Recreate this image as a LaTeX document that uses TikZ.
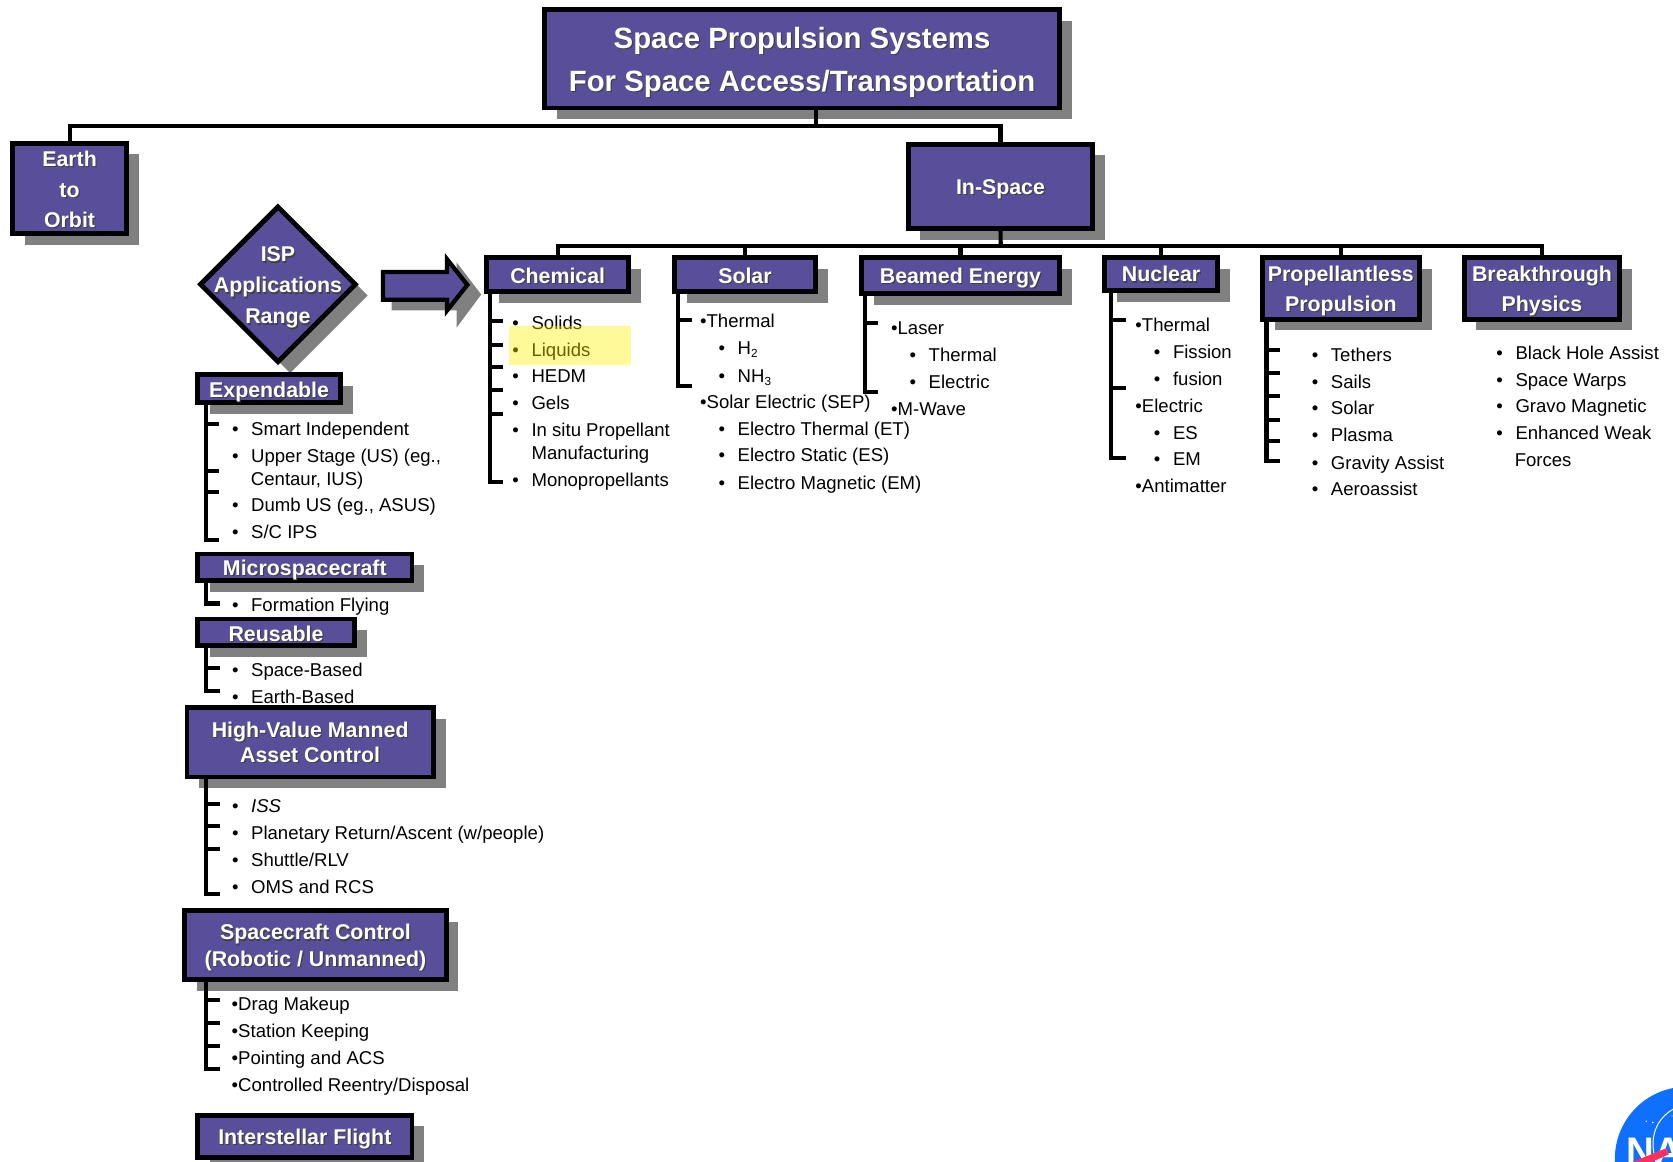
\documentclass[tikz,border=0pt]{standalone}
\usepackage{fontspec}
\setmainfont{Liberation Sans}
\usetikzlibrary{shadows,shapes.geometric,calc}
\definecolor{hdrfill}{HTML}{584E99}
\definecolor{shdw}{HTML}{808080}
\definecolor{nasablue}{HTML}{0F6FFF}
\definecolor{nasared}{HTML}{FF3060}
\tikzset{
  shad/.style={general shadow={shadow xshift=11.5pt,shadow yshift=-10.5pt,fill=shdw}},
  hdr/.style={draw=black,line width=4.5pt,fill=hdrfill,inner sep=0pt,shad},
  hdrtxt/.style={inner sep=0pt,align=center,text=white,font=\bfseries\fontsize{20}{#1}\selectfont},
  hdrtxt/.default=28.5,
  titletxt/.style={inner sep=0pt,align=center,text=white,font=\bfseries\fontsize{27.5}{40}\selectfont},
  txt/.style={anchor=mid west,inner sep=0pt,yshift=-3.8pt,text=black,font=\fontsize{17.4}{20}\selectfont},
  wire/.style={line width=3.8pt,draw=black},
}
\newcommand\shd[1]{\leavevmode\rlap{\kern1.1pt\raisebox{-1.1pt}{\textcolor{black!75}{#1}}}#1}
\def\dy{2.8}
% [line spacing] name x1 y1 x2 y2 text
\newcommand\hbx[7][28.5]{%
  \pgfmathsetmacro\ww{#5-#3-3}\pgfmathsetmacro\hh{#6-#4-3}%
  \node[hdr,minimum width=\ww pt,minimum height=\hh pt] (#2) at ({(#3+#5)/2-0.3},{(#4+#6)/2-0.3}) {};
  \node[hdrtxt=#1,yshift=-\dy pt] (#2t) at (#2.center) {#7};}
\newcommand\li[4]{\node[txt] (#1) at (#2-0.7,#3) {\makebox[17.9pt][l]{•}#4};}
\newcommand\ti[4]{\node[txt] (#1) at (#2,#3) {•#4};}
\newcommand\pl[4]{\node[txt] (#1) at (#2,#3) {#4};}
\newcommand\brk[5]{% name, box, x, tick end, ticks (last = end)
  \foreach \yy in {#5}{\draw[wire,line cap=butt] (#3,\yy) -- (#4,\yy);\xdef\yend{\yy}}%
  \coordinate (#1) at (#3,\yend);
  \draw[wire] ($(#2.south -| #1)$) -- ($(#1)+(0,1.9)$);}
\newcommand\sbs[1]{\raisebox{-3pt}{\fontsize{11}{11}\selectfont #1}}
\begin{document}
\begin{tikzpicture}[x=1pt,y=-1pt]
\useasboundingbox (0,0) rectangle (1568,1089);
% list text (drawn first, boxes cover parts of it)
\li{c1}{480.8}{302}{Solids}\li{c2}{480.8}{327.5}{Liquids}\li{c3}{480.8}{352.5}{HEDM}\li{c4}{480.8}{377}{Gels}
\li{c5}{480.8}{402.5}{In situ Propellant}\pl{c5b}{498}{424}{Manufacturing}\li{c6}{480.8}{449.5}{Monopropellants}
\ti{s1}{656}{300.5}{Thermal}
\li{s2}{674}{326}{H\sbs{2}}\li{s3}{674}{352}{NH\sbs{3}}
\ti{s4}{656}{376}{Solar Electric (SEP)}
\li{s5}{674}{401.5}{Electro Thermal (ET)}\li{s6}{674}{426.5}{Electro Static (ES)}\li{s7}{674}{452}{Electro Magnetic (EM)}
\ti{b1}{835}{307}{Laser}\li{b2}{853}{332}{Thermal}\li{b3}{853}{357.5}{Electric}\ti{b4}{835}{383}{M-Wave}
\ti{n1}{1064}{304}{Thermal}\li{n2}{1082}{329.5}{Fission}\li{n3}{1082}{354.5}{fusion}
\ti{n4}{1064}{380}{Electric}\li{n5}{1082}{405.5}{ES}\li{n6}{1082}{429.5}{EM}\ti{n7}{1064}{455}{Antimatter}
\li{p1}{1230}{332}{Tethers}\li{p2}{1230}{357.5}{Sails}\li{p3}{1230}{382.5}{Solar}\li{p4}{1230}{407.5}{Plasma}\li{p5}{1230}{433.5}{Gravity Assist}\li{p6}{1230}{457.5}{Aeroassist}
\li{t1}{1403}{330.5}{Black Hole Assist}\li{t2}{1403}{355.5}{Space Warps}\li{t3}{1403}{380}{Gravo Magnetic}\li{t4}{1403}{405.5}{Enhanced Weak}\pl{t4b}{1419.5}{430.5}{Forces}
\li{e1}{218}{401.5}{Smart Independent}\li{e2}{218}{427}{Upper Stage (US) (eg.,}\pl{e2b}{235}{449}{Centaur, IUS)}\li{e3}{218}{473}{Dumb US (eg., ASUS)}\li{e4}{218}{498}{S/C IPS}
\li{m1}{218}{566.5}{Formation Flying}
\li{r1}{218}{627.5}{Space-Based}\li{r2}{218}{652.5}{Earth-Based}
\li{h1}{218}{755}{\itshape ISS}\li{h2}{218}{780}{Planetary Return/Ascent (w/people)}\li{h3}{218}{805.5}{Shuttle/RLV}\li{h4}{218}{831}{OMS and RCS}
\ti{k1}{217}{940.5}{Drag Makeup}\ti{k2}{217}{966}{Station Keeping}\ti{k3}{217}{991}{Pointing and ACS}\ti{k4}{217}{1016.5}{Controlled Reentry/Disposal}
% highlight
\fill[yellow,opacity=0.4] (477,306) rectangle (591,342);
% diamond and arrow
\node[diamond,aspect=1,draw=black,line width=4.5pt,fill=hdrfill,shad,minimum width=147pt,minimum height=147pt,inner sep=0pt] (isp) at (260.5,266.5) {};
\node[hdrtxt=29,yshift=-3.7pt] (ispt) at (isp.center) {\shd{ISP}\\\shd{Applications}\\\shd{Range}};
\fill[shdw] (367,262) -- (428,262) -- (428,246) -- (451,276) -- (428,307) -- (428,291) -- (367,291) -- cycle;
\draw[line width=4pt,fill=hdrfill,miter limit=10] (359,255) -- (419,255) -- (419,243) -- (438,267) -- (419,291) -- (419,281) -- (359,281) -- cycle;
% boxes
\node[hdr,minimum width=483pt,minimum height=92pt] (title) at (751.7,55.2) {};
\node[titletxt,yshift=-4pt] (titlet) at (title.center) {\shd{Space Propulsion Systems}\\\shd{For Space Access/Transportation}};
\def\dy{1.5}
\hbx{earth}{10.5}{133}{120.5}{221}{\shd{Earth}\\\shd{to}\\\shd{Orbit}}
\def\dy{2.8}
\hbx{inspace}{850}{134}{1026}{216}{\shd{In-Space}}
\def\dy{1.8}
\hbx{chem}{455}{240}{591}{275}{\shd{Chemical}}
\hbx{solar}{631}{240}{766}{275}{\shd{Solar}}
\def\dy{2.8}
\hbx{beam}{806}{240}{995}{277}{\shd{Beamed Energy}}
\def\dy{1}
\hbx{nuc}{1034}{240}{1143}{274}{\shd{Nuclear}}
\def\dy{2.8}
\hbx{prop}{1182}{240}{1332}{301}{\shd{Propellantless}\\\shd{Propulsion}}
\hbx{brk}{1371}{240}{1520}{301}{\shd{Breakthrough}\\\shd{Physics}}
\def\dy{3.5}
\hbx{expd}{184}{350}{321}{379}{\shd{Expendable}}
\def\dy{2.8}
\hbx{micro}{184}{518}{388}{546}{\shd{Microspacecraft}}
\def\dy{1.8}
\hbx{reus}{184}{579}{334}{607}{\shd{Reusable}}
\def\dy{0.8}
\hbx[23.5]{hv}{174}{662}{408}{730}{\shd{High-Value Manned}\\\shd{Asset Control}}
\def\dy{2.8}
\hbx[24.5]{sc}{172}{852}{420}{920}{\shd{Spacecraft Control}\\\shd{(Robotic / Unmanned)}}
\hbx{inter}{184}{1044}{388}{1087}{\shd{Interstellar Flight}}
% tree connectors
\coordinate (j1) at (765,118);
\coordinate (j2) at (938,231);
\draw[wire] (title.south -| j1) -- (j1);
\draw[wire] (earth.north) |- (j1) -| (inspace.north);
\draw[wire] (inspace.south) -- (j2);
\draw[wire] (chem.north) |- (j2) -| (brk.north);
\foreach \n in {solar,beam,nuc,prop}{\draw[wire] (\n.north) -- (\n.north |- j2);}
% brackets
\brk{bchem}{chem}{459}{471.5}{300.6,323,343.8,365.5,387.6,451.8}
\brk{bsol}{solar}{635.5}{649}{300,361.7}
\brk{bbeam}{beam}{810.5}{823}{302.8,367}
\brk{bnuc}{nuc}{1041}{1055}{300,364,429.5}
\brk{bprop}{prop}{1187}{1200}{328,349.7,371,393.5,413.5,432.5}
\brk{bexp}{expd}{193}{205}{397,441.7,461.3,505.8}
\brk{bmic}{micro}{193}{206}{565.6}
\brk{bre}{reus}{193}{206}{626,647.8}
\brk{bhv}{hv}{193}{206}{753.6,773.9,796,838}
\brk{bsc}{sc}{193}{206}{937.5,958.8,980.3,1001.5}
% NASA logo
\begin{scope}
\clip (0,0) rectangle (1568,1089);
\fill[nasablue] (1581,1086) circle (67.5);
\draw[white,line width=0.9pt] (1600,1034) .. controls (1570,1030) and (1540,1050) .. (1552,1089);
\fill[white] (1549,1052) circle (0.9) (1543,1051) circle (0.7) (1567,1046) circle (0.6);
\node[inner sep=0pt,anchor=north west,text=white,font=\bfseries\fontsize{36}{36}\selectfont] (nasa) at (1524,1066) {NA};
\fill[nasared] (1530,1089) -- (1562,1076) -- (1564,1082) -- (1548,1089) -- cycle;
\end{scope}
\end{tikzpicture}
\end{document}
